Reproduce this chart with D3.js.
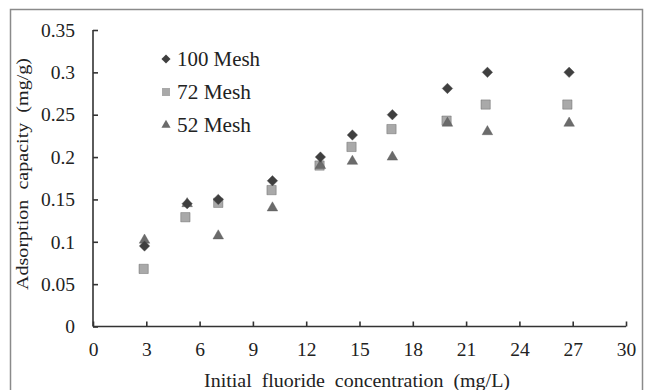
<!DOCTYPE html>
<html><head><meta charset="utf-8">
<script src="https://cdn.jsdelivr.net/npm/d3@7/dist/d3.min.js"></script>
<style>body{margin:0;background:#fff}svg{display:block}text{font-family:"Liberation Serif","Times New Roman",serif;fill:#222}</style>
</head><body><svg id="c" width="645" height="390"></svg>
<script>
const concentration100 = [2.9, 5.3, 7.05, 10.1, 12.8, 14.6, 16.85, 19.95, 22.2, 26.8];
const mesh100 = [0.095, 0.145, 0.15, 0.172, 0.2, 0.226, 0.25, 0.281, 0.3, 0.3];
const concentration72 = [2.85, 5.2, 7.05, 10.05, 12.75, 14.55, 16.8, 19.9, 22.1, 26.7];
const mesh72 = [0.068, 0.129, 0.146, 0.161, 0.19, 0.212, 0.233, 0.243, 0.262, 0.262];
const concentration52 = [2.9, 5.3, 7.05, 10.1, 12.8, 14.6, 16.85, 19.95, 22.2, 26.8];
const mesh52 = [0.102, 0.145, 0.107, 0.14, 0.19, 0.195, 0.2, 0.24, 0.23, 0.24];
const xTicks = [0, 3, 6, 9, 12, 15, 18, 21, 24, 27, 30];
const yTicks = [0, 0.05, 0.1, 0.15, 0.2, 0.25, 0.3, 0.35];
const seriesNames = ["100 Mesh", "72 Mesh", "52 Mesh"];

const svg = d3.select("#c");
svg.append("rect").attr("x",10.5).attr("y",9.5).attr("width",632).attr("height",400)
  .attr("fill","none").attr("stroke","#8a8a8a").attr("stroke-width",1.5);

const x = d3.scaleLinear().domain([0,30]).range([93,626]);
const y = d3.scaleLinear().domain([0,0.35]).range([326.5,30]);

const gx = svg.append("g").attr("transform","translate(0,326.5)")
  .call(d3.axisBottom(x).tickValues(xTicks).tickSize(-5).tickSizeOuter(0).tickPadding(16).tickFormat(d3.format("d")));
const gy = svg.append("g").attr("transform","translate(93,0)")
  .call(d3.axisLeft(y).tickValues(yTicks).tickSize(-5).tickSizeOuter(0).tickPadding(18).tickFormat(d=>d===0?"0":String(d)));
[gx,gy].forEach(g=>{
  g.select(".domain").attr("stroke","#333").attr("stroke-width",1.6);
  g.selectAll(".tick line").attr("stroke","#333").attr("stroke-width",1.6);
  g.selectAll(".tick text").attr("font-family","Liberation Serif").attr("font-size",19.5).attr("fill","#222");
});
gx.select(".domain").attr("d",`M${x(0)},0H${x(30)}`);
gy.select(".domain").attr("d",`M0,${y(0)}V${y(0.35)}`);

const styles = [
  {sym:d3.symbolDiamond2, size:70, fill:"#3f3f3f", xs:concentration100, ys:mesh100},
  {sym:d3.symbolSquare2, size:110, fill:"#a9a9a9", xs:concentration72, ys:mesh72},
  {sym:d3.symbolTriangle2, size:80, fill:"#6b6b6b", xs:concentration52, ys:mesh52}
];
const order = [1,2,0];
order.forEach(i=>{
  const s = styles[i];
  svg.append("g").selectAll("path").data(s.xs.map((v,k)=>[v,s.ys[k]])).join("path")
    .attr("d", d3.symbol().type(s.sym).size(s.size))
    .attr("transform", d=>`translate(${x(d[0])},${y(d[1])})`)
    .attr("fill", s.fill).attr("stroke","#555").attr("stroke-width",0.4);
});

const ly = [59, 92, 125];
seriesNames.forEach((n,i)=>{
  const s = styles[i];
  svg.append("path").attr("d", d3.symbol().type(s.sym).size(s.size*0.75))
    .attr("transform",`translate(166,${ly[i]})`).attr("fill",s.fill);
  svg.append("text").attr("x",177).attr("y",ly[i]+6.5).attr("font-size",20)
    .attr("textLength", n.length===8?83:74).attr("lengthAdjust","spacingAndGlyphs").text(n);
});

svg.append("text").attr("x",357).attr("y",387).attr("text-anchor","middle").attr("font-size",18.5)
  .attr("textLength",306).attr("lengthAdjust","spacingAndGlyphs").attr("xml:space","preserve")
  .text("Initial  fluoride  concentration  (mg/L)");
svg.append("text").attr("transform","translate(28,174) rotate(-90)").attr("text-anchor","middle").attr("font-size",17.5)
  .attr("textLength",232).attr("lengthAdjust","spacingAndGlyphs").attr("xml:space","preserve")
  .text("Adsorption  capacity  (mg/g)");
</script></body></html>
